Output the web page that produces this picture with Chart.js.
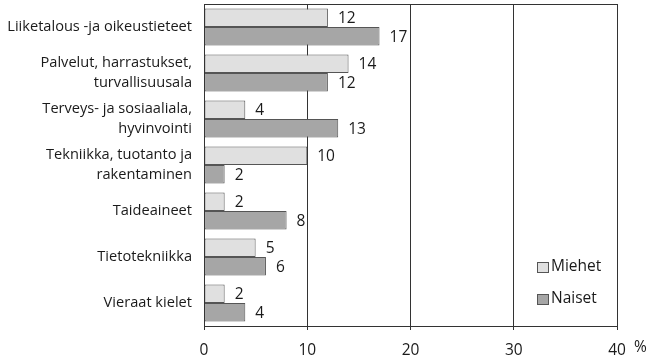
<!DOCTYPE html>
<html><head><meta charset="utf-8">
<script src="https://cdn.jsdelivr.net/npm/chart.js@4/dist/chart.umd.min.js"></script>
<style>html,body{margin:0;padding:0;background:#fff}#w{width:653px;height:361px}</style>
</head><body><div id="w"><canvas id="c"></canvas></div>
<script>
const categories = [
  ["Liiketalous -ja oikeustieteet"],
  ["Palvelut, harrastukset,", "turvallisuusala"],
  ["Terveys- ja sosiaaliala,", "hyvinvointi"],
  ["Tekniikka, tuotanto ja", "rakentaminen"],
  ["Taideaineet"],
  ["Tietotekniikka"],
  ["Vieraat kielet"]
];
const miehet = [12, 14, 4, 10, 2, 5, 2];
const naiset = [17, 12, 13, 2, 8, 6, 4];
const xTicks = [0, 10, 20, 30, 40];
const unitLabel = "%";

const FONT = "'Open Sans', sans-serif";
const TXT = '#1a1a1a';

const labelsPlugin = {
  id: 'vals',
  afterDatasetsDraw(chart) {
    const ctx = chart.ctx;
    ctx.save();
    ctx.font = '15.5px ' + FONT;
    ctx.fillStyle = TXT;
    ctx.textAlign = 'left';
    ctx.textBaseline = 'middle';
    chart.data.datasets.forEach((ds, i) => {
      chart.getDatasetMeta(i).data.forEach((bar, j) => {
        ctx.fillText(String(ds.data[j]), bar.x + 10, bar.y + 1);
      });
    });
    // frame
    const a = chart.chartArea;
    ctx.strokeStyle = '#333';
    ctx.lineWidth = 1;
    ctx.strokeRect(Math.round(a.left) + 0.5, Math.round(a.top) + 0.5, Math.round(a.right - a.left), Math.round(a.bottom - a.top));
    // legend
    const items = chart.data.datasets;
    const lx = 537, ly = [267, 299];
    items.forEach((ds, i) => {
      ctx.fillStyle = ds.backgroundColor;
      ctx.fillRect(lx, ly[i] - 5, 11, 10);
      ctx.strokeStyle = '#555';
      ctx.strokeRect(lx + 0.5, ly[i] - 5 + 0.5, 11, 10);
      ctx.fillStyle = TXT;
      ctx.fillText(ds.label, lx + 14, ly[i]);
    });
    // unit
    const xs = chart.scales.x;
    ctx.textAlign = 'left';
    ctx.fillText(unitLabel, xs.right + 17, 348);
    ctx.restore();
  }
};

new Chart(document.getElementById('c'), {
  type: 'bar',
  data: {
    labels: categories,
    datasets: [
      { label: 'Miehet', data: miehet, backgroundColor: '#e0e0e0', borderColor: '#555', borderWidth: 1, borderSkipped: false },
      { label: 'Naiset', data: naiset, backgroundColor: '#a6a6a6', borderColor: '#555', borderWidth: 1, borderSkipped: false }
    ]
  },
  options: {
    indexAxis: 'y',
    responsive: true,
    maintainAspectRatio: false,
    animation: false,
    layout: { padding: { top: 4, right: 36, bottom: 0, left: 0 } },
    datasets: { bar: { categoryPercentage: 0.8, barPercentage: 1.0 } },
    plugins: { legend: { display: false }, tooltip: { enabled: false } },
    scales: {
      x: {
        min: 0, max: 40,
        afterBuildTicks(s) { s.ticks = xTicks.map(v => ({ value: v })); },
        afterFit(s) { s.height = 35; s.paddingLeft = 0; s.paddingRight = 0; },
        grid: { color: '#333', lineWidth: 1, drawTicks: true, tickLength: 4 },
        border: { color: '#333' },
        ticks: { font: { family: FONT, size: 15.5 }, color: TXT, padding: 11, maxRotation: 0 }
      },
      y: {
        afterFit(s) { s.width = 204; s.paddingTop = 0; s.paddingBottom = 0; },
        grid: { display: false, drawTicks: false },
        border: { color: '#333' },
        ticks: { font: { family: FONT, size: 14.6, lineHeight: 1.37 }, color: TXT, padding: 12 }
      }
    }
  },
  plugins: [labelsPlugin]
});
</script></body></html>
